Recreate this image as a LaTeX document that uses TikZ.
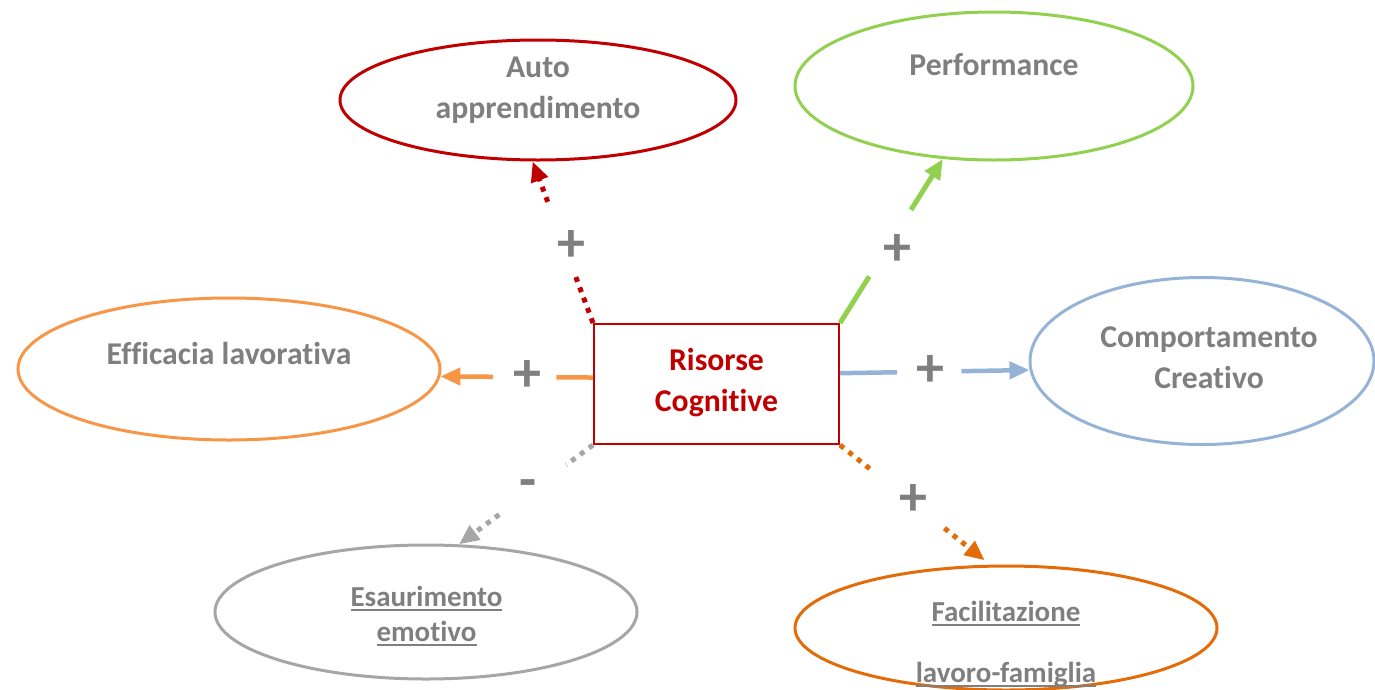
\documentclass[tikz,border=0pt]{standalone}
\usepackage{fontspec}
\setmainfont{Carlito}[RawFeature={-liga}]
\usetikzlibrary{shapes.geometric,arrows.meta,calc}
\definecolor{cred}{HTML}{C00000}
\definecolor{cgreen}{HTML}{92D050}
\definecolor{corange}{HTML}{F79646}
\definecolor{cblue}{HTML}{95B3D7}
\definecolor{cgray}{HTML}{A6A6A6}
\definecolor{cdorange}{HTML}{E36C09}
\definecolor{tgray}{HTML}{7F7F7F}
\newcommand\ulbox[1]{\setbox0=\hbox{#1}\rlap{\rule[-5pt]{\wd0}{2pt}}\box0}
\begin{document}
\begin{tikzpicture}[x=1pt,y=-1pt,
  ell/.style={ellipse, draw=#1, line width=3pt, inner sep=0pt},
  txt/.style={font=\bfseries\fontsize{31.7}{38}\selectfont, text=tgray, anchor=base, inner sep=0pt},
  subtxt/.style={font=\bfseries\fontsize{29}{35}\selectfont, text=tgray, anchor=base, inner sep=0pt},
  sign/.style={font=\bfseries\fontsize{56}{56}\selectfont, text=tgray, inner sep=0pt},
  tip/.style={-{Triangle[length=20pt,width=17pt]}},
  dotline/.style={line width=5pt, dash pattern=on 5pt off 6pt, draw=#1},
  solidline/.style={line width=5pt, draw=#1},
  dashline/.style={line width=4.5pt, draw=#1}
]
\useasboundingbox (0,0) rectangle (1375,689);

% box
\node[draw=cred, line width=2pt, minimum width=245pt, minimum height=120pt, inner sep=0pt] (box) at (716.5,384) {};
\node[txt, text=cred] (r1t) at (716.5,370) {Risorse};
\node[txt, text=cred] (r2t) at (716.5,411) {Cognitive};

% ellipses
\node[ell=cred, minimum width=396pt, minimum height=120pt] (auto) at (538,100) {};
\node[ell=cgreen, minimum width=398pt, minimum height=148pt] (perf) at (994,86) {};
\node[ell=corange, minimum width=422pt, minimum height=142pt] (eff) at (229,369) {};
\node[ell=cblue, minimum width=344pt, minimum height=167pt] (comp) at (1202,361) {};
\node[ell=cgray, minimum width=422pt, minimum height=134pt] (esa) at (426,612) {};
\node[ell=cdorange, minimum width=422pt, minimum height=124pt] (fac) at (1006,628) {};

% texts
\node[txt] (t1) at (538,77) {Auto};
\node[txt] (t2) at (538,118) {apprendimento};
\node[txt] (t3) at (994,75) {Performance};
\node[txt] (t4) at (229,364) {Efficacia lavorativa};
\node[txt] (t5) at (1209,347) {Comportamento};
\node[txt] (t6) at (1209,388) {Creativo};
\node[subtxt] (t7) at (426.5,606) {\ulbox{Esaurimento}};
\node[subtxt] (t8) at (426.5,641) {\ulbox{emotivo}};
\node[subtxt] (t9) at (1006,621) {\ulbox{Facilitazione}};
\node[subtxt] (t10) at (1006,682) {\ulbox{lavoro-famiglia}};

% red dotted
\path (box.north west) -- (auto.265) coordinate[pos=0.3] (ra) coordinate[pos=0.75] (rb);
\draw[dotline=cred] (box.north west) -- (ra);
\draw[dotline=cred, tip, cred] (rb) -- (auto.265);
\node[sign] (s1) at (571,246) {+};

% green solid
\path (box.north east) -- (perf.235.6) coordinate[pos=0.284] (ga) coordinate[pos=0.69] (gb);
\draw[solidline=cgreen] (box.north east) -- (ga);
\draw[solidline=cgreen, tip, cgreen] (gb) -- (perf.235.6);
\node[sign] (s2) at (897,250) {+};

% orange dashed
\path (box.177) -- (eff.-2.4) coordinate[pos=0.24] (oa) coordinate[pos=0.656] (ob);
\draw[dashline=corange] (box.177) -- (oa);
\draw[dashline=corange, tip, corange] (ob) -- (eff.-2.4);
\node[sign] (s3) at (527,376) {+};

% blue dashed
\path (box.5.6) -- (comp.183.7) coordinate[pos=0.30] (ba) coordinate[pos=0.64] (bb);
\draw[dashline=cblue] (box.5.6) -- (ba);
\draw[dashline=cblue, tip, cblue] (bb) -- (comp.183.7);
\node[sign] (s4) at (930,371) {+};

% gray dotted
\path (box.south west) -- (esa.64.5) coordinate[pos=0.2] (ya) coordinate[pos=0.70] (yb);
\draw[dotline=cgray] (box.south west) -- (ya);
\draw[dotline=cgray, tip, cgray] (yb) -- (esa.64.5);
\node[sign] (s5) at (528,489) {-};

% dark orange dotted
\path (box.south east) -- (fac.104.5) coordinate[pos=0.225] (da) coordinate[pos=0.695] (db);
\draw[dotline=cdorange] (box.south east) -- (da);
\draw[dotline=cdorange, tip, cdorange, shorten >=7pt] (db) -- (fac.104.5);
\node[sign] (s6) at (913,500) {+};
\end{tikzpicture}
\end{document}
